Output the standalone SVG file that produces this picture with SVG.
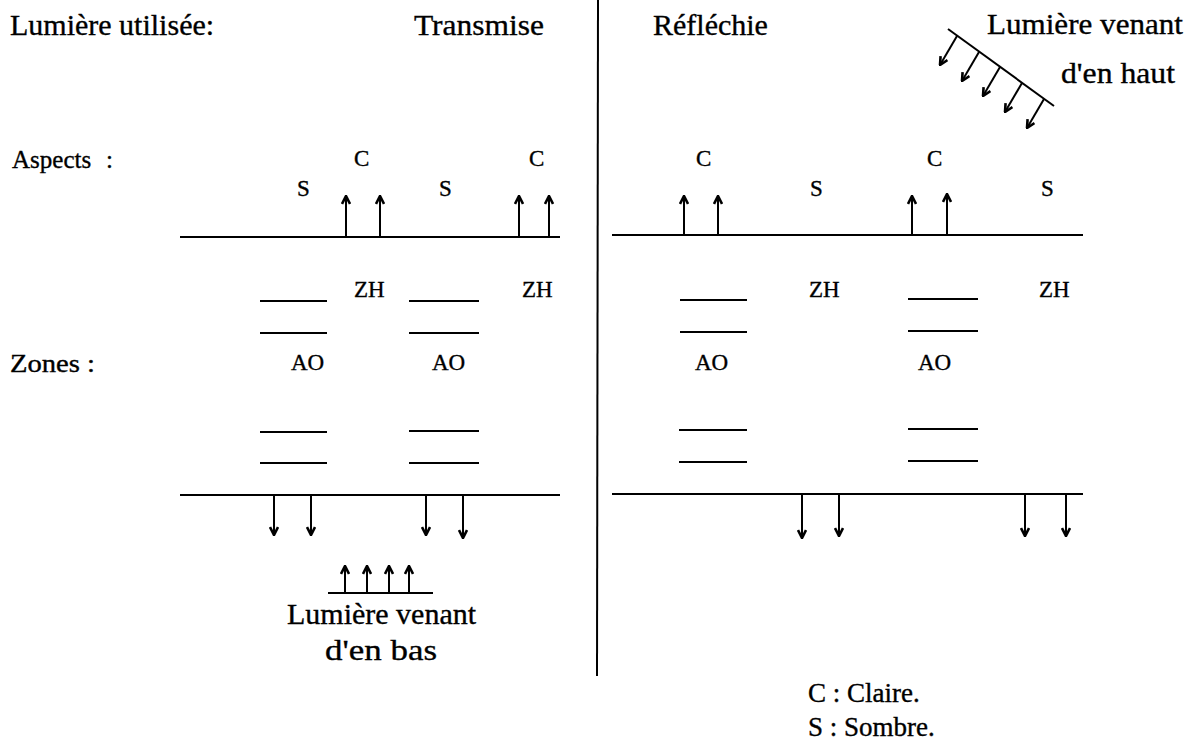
<svg xmlns="http://www.w3.org/2000/svg" width="1199" height="746" viewBox="0 0 1199 746">
<style>
text{font-family:"Liberation Serif","Times New Roman",serif;fill:#000;stroke:#000;stroke-width:0.35}
.t{font-size:30px}
.l{font-size:23px}
.h{font-size:25px}
.g{font-size:27px}
.ln{stroke:#000;stroke-width:2;fill:none}
.ar{stroke:#000;stroke-width:2;fill:none;marker-end:url(#ah)}
</style>
<defs>
<marker id="ah" viewBox="0 0 10 10" refX="9" refY="5" markerWidth="5" markerHeight="5" orient="auto" markerUnits="strokeWidth">
<path d="M1,1 L9,5 L1,9" fill="none" stroke="#000" stroke-width="2.6"/>
</marker>
</defs>
<rect width="1199" height="746" fill="#fff"/>
<g id="titles">
<text class="t" x="10" y="35">Lumière utilisée:</text>
<text class="t" x="414" y="35" textLength="130" lengthAdjust="spacingAndGlyphs">Transmise</text>
<text class="t" x="653" y="35">Réfléchie</text>
<text class="t" x="987" y="34" textLength="196" lengthAdjust="spacingAndGlyphs">Lumière venant</text>
<text class="t" x="1061" y="83" textLength="114" lengthAdjust="spacingAndGlyphs">d'en haut</text>
<text class="h" x="12" y="168">Aspects</text>
<text class="h" x="106" y="168">:</text>
<text class="h" x="10" y="372" textLength="85" lengthAdjust="spacingAndGlyphs">Zones :</text>
</g>
<g id="divider"><line class="ln" x1="598" y1="0" x2="597" y2="676"/></g>
<g id="source-top">
<line class="ln" x1="948" y1="29" x2="1054" y2="106"/>
<line class="ar" x1="957" y1="36" x2="940" y2="65"/>
<line class="ar" x1="979" y1="52" x2="962" y2="81"/>
<line class="ar" x1="1000" y1="67" x2="983" y2="96"/>
<line class="ar" x1="1022" y1="83" x2="1005" y2="112"/>
<line class="ar" x1="1044" y1="99" x2="1027" y2="128"/>
</g>
<g id="transmise">
<line class="ln" x1="180" y1="237" x2="560" y2="237"/>
<line class="ar" x1="346" y1="237" x2="346" y2="196"/>
<line class="ar" x1="380" y1="237" x2="380" y2="196"/>
<line class="ar" x1="519" y1="237" x2="519" y2="196"/>
<line class="ar" x1="549" y1="237" x2="549" y2="196"/>
<text class="l" x="354" y="166">C</text>
<text class="l" x="297" y="196">S</text>
<text class="l" x="439" y="196">S</text>
<text class="l" x="529" y="166">C</text>
<text class="l" x="354" y="297">ZH</text>
<text class="l" x="522" y="297">ZH</text>
<text class="l" x="291" y="370">AO</text>
<text class="l" x="432" y="370">AO</text>
<line class="ln" x1="260" y1="301" x2="327" y2="301"/>
<line class="ln" x1="260" y1="333" x2="327" y2="333"/>
<line class="ln" x1="409" y1="301" x2="479" y2="301"/>
<line class="ln" x1="409" y1="333" x2="479" y2="333"/>
<line class="ln" x1="260" y1="432" x2="327" y2="432"/>
<line class="ln" x1="260" y1="463" x2="327" y2="463"/>
<line class="ln" x1="409" y1="431" x2="479" y2="431"/>
<line class="ln" x1="409" y1="463" x2="479" y2="463"/>
<line class="ln" x1="180" y1="495" x2="560" y2="495"/>
<line class="ar" x1="274" y1="495" x2="274" y2="535"/>
<line class="ar" x1="311" y1="495" x2="311" y2="535"/>
<line class="ar" x1="426" y1="495" x2="426" y2="535"/>
<line class="ar" x1="463" y1="495" x2="463" y2="538"/>
</g>
<g id="source-bottom">
<line class="ln" x1="328" y1="593" x2="433" y2="593"/>
<line class="ar" x1="345" y1="593" x2="345" y2="566"/>
<line class="ar" x1="367" y1="593" x2="367" y2="566"/>
<line class="ar" x1="389" y1="593" x2="389" y2="566"/>
<line class="ar" x1="409" y1="593" x2="409" y2="566"/>
<text class="t" x="287" y="624">Lumière venant</text>
<text class="t" x="325" y="660" textLength="112" lengthAdjust="spacingAndGlyphs">d'en bas</text>
</g>
<g id="reflechie">
<line class="ln" x1="612" y1="235" x2="1083" y2="235"/>
<line class="ar" x1="684" y1="235" x2="684" y2="196"/>
<line class="ar" x1="718" y1="235" x2="718" y2="196"/>
<line class="ar" x1="912" y1="235" x2="912" y2="196"/>
<line class="ar" x1="947" y1="235" x2="947" y2="194"/>
<text class="l" x="696" y="166">C</text>
<text class="l" x="810" y="196">S</text>
<text class="l" x="927" y="166">C</text>
<text class="l" x="1041" y="196">S</text>
<text class="l" x="809" y="297">ZH</text>
<text class="l" x="1039" y="297">ZH</text>
<text class="l" x="695" y="370">AO</text>
<text class="l" x="918" y="370">AO</text>
<line class="ln" x1="680" y1="300" x2="747" y2="300"/>
<line class="ln" x1="680" y1="332" x2="747" y2="332"/>
<line class="ln" x1="908" y1="299" x2="978" y2="299"/>
<line class="ln" x1="908" y1="331" x2="978" y2="331"/>
<line class="ln" x1="679" y1="430" x2="747" y2="430"/>
<line class="ln" x1="679" y1="462" x2="747" y2="462"/>
<line class="ln" x1="908" y1="429" x2="978" y2="429"/>
<line class="ln" x1="908" y1="461" x2="978" y2="461"/>
<line class="ln" x1="612" y1="494" x2="1083" y2="494"/>
<line class="ar" x1="802" y1="494" x2="802" y2="538"/>
<line class="ar" x1="839" y1="494" x2="839" y2="536"/>
<line class="ar" x1="1025" y1="494" x2="1025" y2="536"/>
<line class="ar" x1="1066" y1="494" x2="1066" y2="536"/>
</g>
<g id="legend">
<text class="g" x="808" y="702">C : Claire.</text>
<text class="g" x="808" y="736">S : Sombre.</text>
</g>
</svg>
